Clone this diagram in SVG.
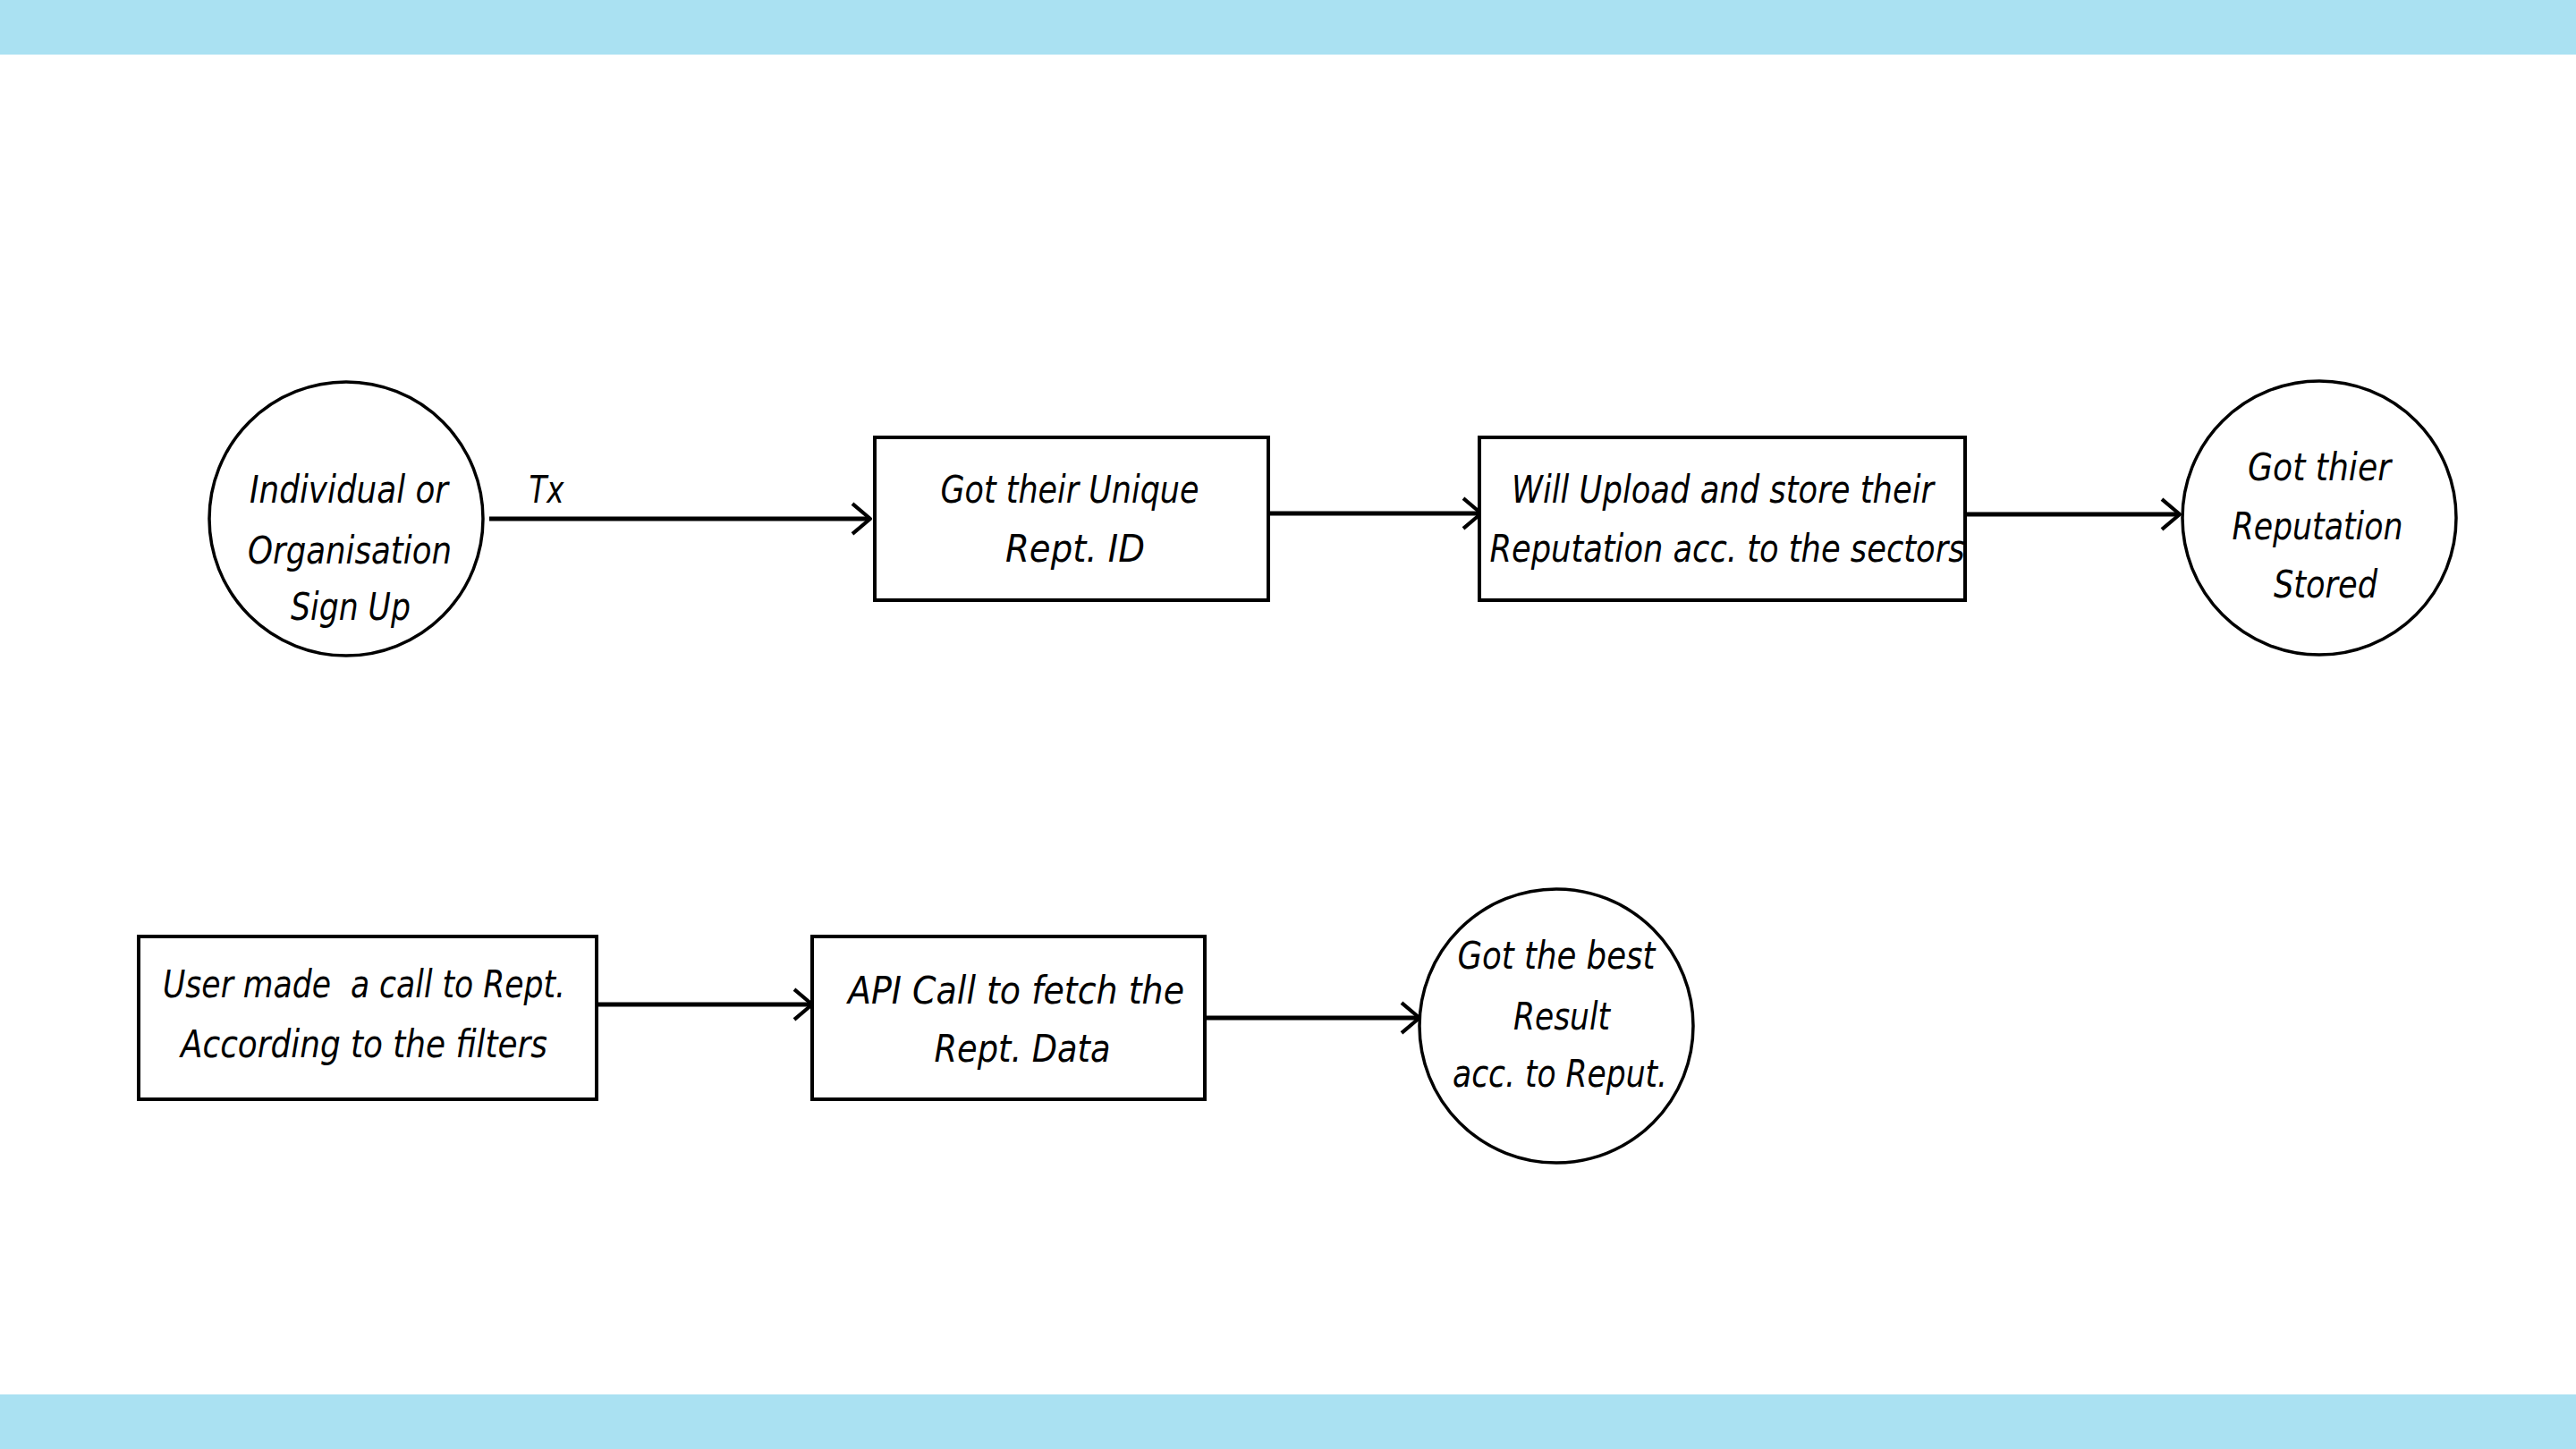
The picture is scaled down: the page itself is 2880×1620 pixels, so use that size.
<svg xmlns="http://www.w3.org/2000/svg" width="2880" height="1620" viewBox="0 0 2880 1620">
<defs>
<style>
.band{fill:#AAE1F2}
.node{fill:#FFFFFF;stroke:#000000;stroke-width:4}
.circ{fill:#FFFFFF;stroke:#000000;stroke-width:3.5}
.t{font-family:"DejaVu Sans Condensed","DejaVu Sans",sans-serif;font-style:italic;font-size:42px;fill:#000000;text-anchor:middle}
.edge{stroke:#000000;stroke-width:5;fill:none;marker-end:url(#arr)}
</style>
<marker id="arr" markerUnits="userSpaceOnUse" markerWidth="30" markerHeight="40" viewBox="-2 -2 26 38" refX="19" refY="16" orient="auto">
<path d="M0,0 L19,16 L0,32" fill="none" stroke="#000000" stroke-width="4" stroke-linejoin="round"/>
</marker>
</defs>
<rect x="0" y="0" width="2880" height="2880" fill="#FFFFFF"/>
<rect class="band" x="0" y="0" width="2880" height="61"/>
<rect class="band" x="0" y="1559" width="2880" height="61"/>

<g id="connectors">
<line class="edge" x1="547" y1="580" x2="973" y2="580"/>
<line class="edge" x1="1418" y1="574" x2="1656" y2="574"/>
<line class="edge" x1="2197" y1="575" x2="2437" y2="575"/>
<line class="edge" x1="667" y1="1123" x2="908" y2="1123"/>
<line class="edge" x1="1347" y1="1138" x2="1587" y2="1138"/>
<text class="t" x="611" y="562" textLength="39" lengthAdjust="spacingAndGlyphs">Tx</text>
</g>

<g id="signup">
<circle class="circ" cx="387" cy="580" r="153"/>
<text class="t" x="390" y="562" textLength="222" lengthAdjust="spacingAndGlyphs">Individual or</text>
<text class="t" x="391" y="630" textLength="228" lengthAdjust="spacingAndGlyphs">Organisation</text>
<text class="t" x="392" y="693" textLength="134" lengthAdjust="spacingAndGlyphs">Sign Up</text>
</g>

<g id="unique-id">
<rect class="node" x="978" y="489" width="440" height="182"/>
<text class="t" x="1196" y="562" textLength="289" lengthAdjust="spacingAndGlyphs">Got their Unique</text>
<text class="t" x="1202" y="628" textLength="156" lengthAdjust="spacingAndGlyphs">Rept. ID</text>
</g>

<g id="upload">
<rect class="node" x="1654" y="489" width="543" height="182"/>
<text class="t" x="1926" y="562" textLength="472" lengthAdjust="spacingAndGlyphs">Will Upload and store their</text>
<text class="t" x="1931" y="628" textLength="531" lengthAdjust="spacingAndGlyphs">Reputation acc. to the sectors</text>
</g>

<g id="stored">
<circle class="circ" cx="2593" cy="579" r="153"/>
<text class="t" x="2593" y="537" textLength="160" lengthAdjust="spacingAndGlyphs">Got thier</text>
<text class="t" x="2591" y="603" textLength="191" lengthAdjust="spacingAndGlyphs">Reputation</text>
<text class="t" x="2600" y="668" textLength="116" lengthAdjust="spacingAndGlyphs">Stored</text>
</g>

<g id="user-call">
<rect class="node" x="155" y="1047" width="512" height="182"/>
<text class="t" x="407" y="1115" textLength="450" lengthAdjust="spacingAndGlyphs" xml:space="preserve">User made  a call to Rept.</text>
<text class="t" x="407" y="1182" textLength="410" lengthAdjust="spacingAndGlyphs">According to the filters</text>
</g>

<g id="api-call">
<rect class="node" x="908" y="1047" width="439" height="182"/>
<text class="t" x="1136" y="1122" textLength="376" lengthAdjust="spacingAndGlyphs">API Call to fetch the</text>
<text class="t" x="1143" y="1187" textLength="197" lengthAdjust="spacingAndGlyphs">Rept. Data</text>
</g>

<g id="best-result">
<circle class="circ" cx="1740" cy="1147" r="153"/>
<text class="t" x="1740" y="1083" textLength="221" lengthAdjust="spacingAndGlyphs">Got the best</text>
<text class="t" x="1746" y="1151" textLength="108" lengthAdjust="spacingAndGlyphs">Result</text>
<text class="t" x="1744" y="1215" textLength="240" lengthAdjust="spacingAndGlyphs">acc. to Reput.</text>
</g>
</svg>
